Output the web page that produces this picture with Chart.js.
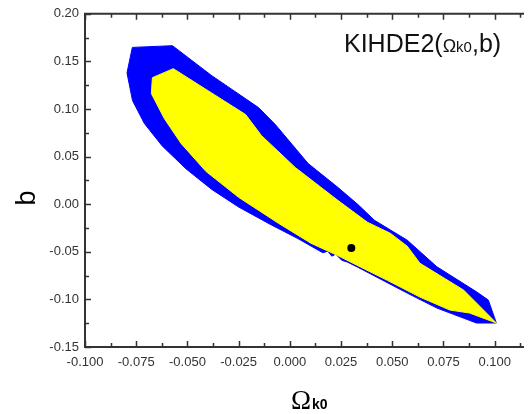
<!DOCTYPE html>
<html>
<head>
<meta charset="utf-8">
<style>
  html, body { margin: 0; padding: 0; background: #fff; }
  canvas { display: block; }
</style>
</head>
<body>
<canvas id="chart" width="528" height="414"></canvas>

<script src="https://cdn.jsdelivr.net/npm/chart.js"></script>
<script>
/* ---------------- DATA ---------------- */
// outer (blue) confidence region, traced clockwise
const blueX = [-0.0769, -0.0573, -0.0381, -0.0153, -0.0071, 0.0089, 0.0234, 0.0331, 0.0413, 0.0573, 0.0718, 0.0911, 0.0969, 0.1008,
               0.0911, 0.0718, 0.0573, 0.0331, 0.0282, 0.0253, 0.0224, 0.0205, 0.0185, 0.0161, 0.0040, -0.0090, -0.0250, -0.0381, -0.0506, -0.0623, -0.0710, -0.0768, -0.0795, -0.0769];
const blueY = [0.1647, 0.1665, 0.1350, 0.1015, 0.0837, 0.0428, 0.0177, -0.0001, -0.0169, -0.0378, -0.0658, -0.0920, -0.1007, -0.1248,
               -0.1248, -0.1091, -0.0934, -0.0661, -0.0609, -0.0588, -0.0525, -0.0546, -0.0494, -0.0510, -0.0362, -0.0218, -0.0030, 0.0155, 0.0370, 0.0612, 0.0847, 0.1088, 0.1379, 0.1647];

// inner (yellow) confidence region
const yellowX = [-0.0671, -0.0569, -0.0216, -0.0139, 0.0026, 0.0234, 0.0379, 0.0490, 0.0573, 0.0635, 0.0848, 0.0926, 0.1008,
                 0.0877, 0.0781, 0.0635, 0.0476, 0.0345, 0.0234, 0.0103, -0.0056, -0.0250, -0.0410, -0.0531, -0.0613, -0.0676, -0.0671];
const yellowY = [0.1329, 0.1424, 0.0942, 0.0722, 0.0386, 0.0041, -0.0190, -0.0305, -0.0441, -0.0620, -0.0902, -0.1070, -0.1248,
                 -0.1143, -0.1112, -0.0976, -0.0800, -0.0660, -0.0540, -0.0410, -0.0200, 0.0072, 0.0345, 0.0638, 0.0900, 0.1162, 0.1329];

// best fit point
const dotX = [0.030];
const dotY = [-0.046];

const xTicks = [-0.100, -0.075, -0.050, -0.025, 0.000, 0.025, 0.050, 0.075, 0.100];
const yTicks = [-0.15, -0.10, -0.05, 0.00, 0.05, 0.10, 0.15, 0.20];
const xMinor = [-0.0875, -0.0625, -0.0375, -0.0125, 0.0125, 0.0375, 0.0625, 0.0875, 0.1125];
const yMinor = [-0.125, -0.075, -0.025, 0.025, 0.075, 0.125, 0.175];

function toPoints(xs, ys) {
  return xs.map((x, i) => ({ x: x, y: ys[i] }));
}

/* ---------------- FRAME + TITLES ---------------- */
const framePlugin = {
  id: 'frame',
  afterDraw(chart) {
    const ctx = chart.ctx;
    const a = chart.chartArea;
    const xs = chart.scales.x;
    const ys = chart.scales.y;
    ctx.save();
    ctx.strokeStyle = '#333';
    ctx.lineWidth = 2;
    ctx.beginPath();
    ctx.moveTo(a.right, a.top);
    ctx.lineTo(a.left, a.top);
    ctx.lineTo(a.left, a.bottom);
    ctx.lineTo(a.right, a.bottom);
    ctx.stroke();

    ctx.lineWidth = 1.5;
    ctx.beginPath();
    xTicks.concat(xMinor).forEach(v => {
      const len = xTicks.includes(v) ? 6 : 4;
      const px = Math.round(xs.getPixelForValue(v)) + 0.5;
      ctx.moveTo(px, a.bottom); ctx.lineTo(px, a.bottom - len);
      ctx.moveTo(px, a.top); ctx.lineTo(px, a.top + len);
    });
    yTicks.concat(yMinor).forEach(v => {
      const len = yTicks.includes(v) ? 6 : 4;
      const py = Math.round(ys.getPixelForValue(v)) + 0.5;
      ctx.moveTo(a.left, py); ctx.lineTo(a.left + len, py);
    });
    ctx.stroke();

    // y title
    ctx.fillStyle = '#000';
    ctx.save();
    ctx.translate(35, 198);
    ctx.rotate(-Math.PI / 2);
    ctx.font = '27px Arial, "Liberation Sans"';
    ctx.textAlign = 'center';
    ctx.textBaseline = 'alphabetic';
    ctx.fillText('b', 0, 0);
    ctx.restore();

    // x title
    ctx.textAlign = 'left';
    ctx.textBaseline = 'alphabetic';
    ctx.font = '27px "Liberation Serif", "Times New Roman"';
    ctx.fillText('Ω', 291, 409);
    let w = ctx.measureText('Ω').width;
    ctx.font = 'bold 14px Arial, "Liberation Sans"';
    ctx.fillText('k0', 291 + w + 1, 409);

    // annotation
    let x = 344;
    const base = 52;
    ctx.fillStyle = '#111';
    const parts = [
      ['KIHDE2(', '25px Arial, "Liberation Sans"'],
      ['Ω', '18px Arial, "Liberation Sans"'],
      ['k0', '15px Arial, "Liberation Sans"'],
      [',b)', '25px Arial, "Liberation Sans"']
    ];
    parts.forEach(p => {
      ctx.font = p[1];
      ctx.fillText(p[0], x, base);
      x += ctx.measureText(p[0]).width;
    });
    ctx.restore();
  }
};

/* ---------------- CHART ---------------- */
new Chart(document.getElementById('chart').getContext('2d'), {
  type: 'scatter',
  data: {
    datasets: [
      {
        data: toPoints(dotX, dotY),
        pointRadius: 4,
        pointBackgroundColor: '#000',
        pointBorderWidth: 0,
        showLine: false
      },
      {
        data: toPoints(yellowX, yellowY),
        showLine: true,
        fill: 'shape',
        backgroundColor: '#ffff00',
        borderColor: '#ffff00',
        borderWidth: 1,
        pointRadius: 0,
        tension: 0
      },
      {
        data: toPoints(blueX, blueY),
        showLine: true,
        fill: 'shape',
        backgroundColor: '#0000ff',
        borderColor: '#0000ff',
        borderWidth: 1,
        pointRadius: 0,
        tension: 0
      }
    ]
  },
  options: {
    responsive: false,
    animation: false,
    layout: { padding: { top: 13, right: 0, left: 0, bottom: 0 } },
    plugins: { legend: { display: false }, tooltip: { enabled: false } },
    scales: {
      x: {
        type: 'linear',
        min: -0.1,
        max: 0.1143,
        grid: { display: false, drawTicks: false },
        border: { display: false },
        afterBuildTicks: s => { s.ticks = xTicks.map(v => ({ value: v })); },
        afterFit: s => { s.height = 67; },
        ticks: {
          autoSkip: false,
          maxRotation: 0,
          padding: 8,
          color: '#333',
          font: { family: 'Arial, "Liberation Sans"', size: 13 },
          callback: v => v.toFixed(3)
        }
      },
      y: {
        type: 'linear',
        min: -0.15,
        max: 0.2,
        grid: { display: false, drawTicks: false },
        border: { display: false },
        afterBuildTicks: s => { s.ticks = yTicks.map(v => ({ value: v })); },
        afterFit: s => { s.width = 85; },
        ticks: {
          autoSkip: false,
          padding: 6,
          color: '#333',
          font: { family: 'Arial, "Liberation Sans"', size: 13 },
          callback: v => v.toFixed(2)
        }
      }
    }
  },
  plugins: [framePlugin]
});
</script>
</body>
</html>
